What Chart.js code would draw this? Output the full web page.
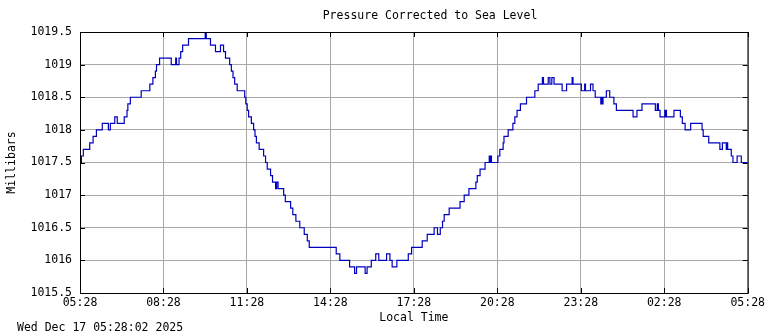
<!DOCTYPE html>
<html>
<head>
<meta charset="utf-8">
<script src="https://cdn.jsdelivr.net/npm/chart.js@4.4.1/dist/chart.umd.min.js"></script>
<style>
  html, body { margin: 0; padding: 0; background: #fff; }
</style>
</head>
<body>
<canvas id="pressureChart" width="768" height="336"></canvas>
<script>
// hours since 05:28 and the reading that starts at that moment (step data)
const hours = [
  0, 0.05, 0.12, 0.35, 0.47, 0.59, 0.80, 1.02, 1.09, 1.25,
  1.34, 1.59, 1.69, 1.72, 1.81, 2.20, 2.51, 2.62, 2.71, 2.75,
  2.86, 3.28, 3.44, 3.47, 3.56, 3.62, 3.69, 3.90, 4.50, 4.54,
  4.69, 4.87, 5.05, 5.16, 5.23, 5.38, 5.44, 5.50, 5.56, 5.65,
  5.92, 5.96, 6.01, 6.06, 6.16, 6.24, 6.29, 6.34, 6.44, 6.60,
  6.67, 6.73, 6.85, 6.92, 7.03, 7.07, 7.12, 7.32, 7.38, 7.57,
  7.65, 7.76, 7.90, 8.06, 8.17, 8.24, 9.21, 9.34, 9.69, 9.87,
  9.94, 10.25, 10.32, 10.47, 10.63, 10.74, 11.02, 11.14, 11.22, 11.39,
  11.80, 11.92, 12.30, 12.48, 12.73, 12.85, 12.95, 13.03, 13.09, 13.27,
  13.66, 13.81, 13.98, 14.23, 14.28, 14.38, 14.56, 14.71, 14.73, 14.77,
  14.79, 15.02, 15.09, 15.21, 15.24, 15.39, 15.56, 15.63, 15.71, 15.83,
  16.05, 16.35, 16.47, 16.62, 16.66, 16.83, 16.89, 16.96, 17.04, 17.33,
  17.49, 17.69, 17.72, 18.02, 18.14, 18.17, 18.35, 18.44, 18.52, 18.72,
  18.75, 18.77, 18.80, 18.92, 19.04, 19.19, 19.28, 19.88, 20.02, 20.20,
  20.68, 20.75, 20.79, 20.85, 21.02, 21.04, 21.05, 21.08, 21.35, 21.58,
  21.65, 21.75, 21.95, 22.36, 22.40, 22.60, 23.00, 23.09, 23.23, 23.26,
  23.28, 23.41, 23.47, 23.62, 23.77, 24
];
const millibars = [
  1017.5, 1017.6, 1017.7, 1017.8, 1017.9, 1018.0, 1018.1, 1018.0, 1018.1, 1018.2,
  1018.1, 1018.2, 1018.3, 1018.4, 1018.5, 1018.6, 1018.7, 1018.8, 1018.9, 1019.0,
  1019.1, 1019.0, 1019.1, 1019.0, 1019.1, 1019.2, 1019.3, 1019.4, 1019.5, 1019.4,
  1019.3, 1019.2, 1019.3, 1019.2, 1019.1, 1019.0, 1018.9, 1018.8, 1018.7, 1018.6,
  1018.5, 1018.4, 1018.3, 1018.2, 1018.1, 1018.0, 1017.9, 1017.8, 1017.7, 1017.6,
  1017.5, 1017.4, 1017.3, 1017.2, 1017.1, 1017.2, 1017.1, 1017.0, 1016.9, 1016.8,
  1016.7, 1016.6, 1016.5, 1016.4, 1016.3, 1016.2, 1016.1, 1016.0, 1015.9, 1015.8,
  1015.9, 1015.8, 1015.9, 1016.0, 1016.1, 1016.0, 1016.1, 1016.0, 1015.9, 1016.0,
  1016.1, 1016.2, 1016.3, 1016.4, 1016.5, 1016.4, 1016.5, 1016.6, 1016.7, 1016.8,
  1016.9, 1017.0, 1017.1, 1017.2, 1017.3, 1017.4, 1017.5, 1017.6, 1017.5, 1017.6,
  1017.5, 1017.6, 1017.7, 1017.8, 1017.9, 1018.0, 1018.1, 1018.2, 1018.3, 1018.4,
  1018.5, 1018.6, 1018.7, 1018.8, 1018.7, 1018.8, 1018.7, 1018.8, 1018.7, 1018.6,
  1018.7, 1018.8, 1018.7, 1018.6, 1018.7, 1018.6, 1018.7, 1018.6, 1018.5, 1018.4,
  1018.5, 1018.4, 1018.5, 1018.6, 1018.5, 1018.4, 1018.3, 1018.2, 1018.3, 1018.4,
  1018.3, 1018.4, 1018.3, 1018.2, 1018.3, 1018.2, 1018.3, 1018.2, 1018.3, 1018.2,
  1018.1, 1018.0, 1018.1, 1018.0, 1017.9, 1017.8, 1017.7, 1017.8, 1017.7, 1017.8,
  1017.7, 1017.6, 1017.5, 1017.6, 1017.5, 1017.5
];
const timeLabels = ['05:28', '08:28', '11:28', '14:28', '17:28', '20:28', '23:28', '02:28', '05:28'];
const chartTitle = 'Pressure Corrected to Sea Level';
const xTitle = 'Local Time';
const yTitle = 'Millibars';
const stamp = 'Wed Dec 17 05:28:02 2025';

const FONT = '"DejaVu Sans Mono", "Liberation Mono", monospace';

// border, inward tick marks and the text around the plot
const frame = {
  id: 'frame',
  afterDraw(chart) {
    const { ctx, chartArea: a, scales } = chart;
    ctx.save();
    ctx.strokeStyle = '#000';
    ctx.lineWidth = 1;
    ctx.beginPath();
    scales.x.ticks.forEach(t => {
      const px = Math.round(scales.x.getPixelForValue(t.value)) + 0.5;
      ctx.moveTo(px, a.bottom); ctx.lineTo(px, a.bottom - 5);
      ctx.moveTo(px, a.top); ctx.lineTo(px, a.top + 5);
    });
    scales.y.ticks.forEach(t => {
      const py = Math.round(scales.y.getPixelForValue(t.value)) + 0.5;
      ctx.moveTo(a.left, py); ctx.lineTo(a.left + 5, py);
      ctx.moveTo(a.right, py); ctx.lineTo(a.right - 5, py);
    });
    ctx.stroke();
    ctx.strokeRect(a.left + 0.5, a.top + 0.5, a.right - a.left, a.bottom - a.top);

    ctx.fillStyle = '#000';
    ctx.font = '11.5px ' + FONT;
    ctx.textBaseline = 'middle';
    ctx.textAlign = 'center';
    ctx.fillText(chartTitle, 430, 16);
    ctx.fillText(xTitle, (a.left + a.right) / 2, 318);
    ctx.textAlign = 'left';
    ctx.fillText(stamp, 17, 328);
    ctx.translate(12, (a.top + a.bottom) / 2);
    ctx.rotate(-Math.PI / 2);
    ctx.textAlign = 'center';
    ctx.fillText(yTitle, 0, 0);
    ctx.restore();
  }
};

const ctx = document.getElementById('pressureChart').getContext('2d');
new Chart(ctx, {
  type: 'line',
  data: {
    datasets: [{
      data: hours.map((h, i) => ({ x: h, y: millibars[i] })),
      borderColor: '#0000c0',
      borderWidth: 1.2,
      pointRadius: 0,
      stepped: true,
      fill: false
    }]
  },
  options: {
    responsive: false,
    animation: false,
    layout: { padding: { left: 0, right: 20, top: 32, bottom: 0 } },
    plugins: { legend: { display: false }, tooltip: { enabled: false } },
    scales: {
      x: {
        type: 'linear',
        min: 0,
        max: 24,
        afterFit: s => { s.height = 43; },
        grid: { color: '#a8a8a8', drawTicks: false },
        border: { display: false },
        ticks: {
          stepSize: 3,
          padding: 3,
          color: '#000',
          font: { family: FONT, size: 11.5 },
          maxRotation: 0,
          callback: v => timeLabels[Math.round(v / 3)]
        }
      },
      y: {
        min: 1015.5,
        max: 1019.5,
        afterFit: s => { s.width = 80; },
        grid: { color: '#a8a8a8', drawTicks: false },
        border: { display: false },
        ticks: {
          stepSize: 0.5,
          padding: 8,
          color: '#000',
          font: { family: FONT, size: 11.5 },
          callback: v => String(Math.round(v * 10) / 10)
        }
      }
    }
  },
  plugins: [frame]
});
</script>
</body>
</html>
